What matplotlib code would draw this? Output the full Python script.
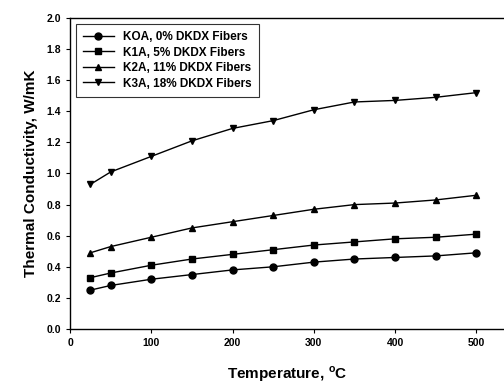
import matplotlib.pyplot as plt

plt.rcParams['font.family'] = ['Liberation Sans', 'DejaVu Sans']
plt.rcParams['font.weight'] = 'bold'
plt.rcParams['axes.labelweight'] = 'bold'

temps = [25, 50, 100, 150, 200, 250, 300, 350, 400, 450, 500]
k0a = [0.25, 0.28, 0.32, 0.35, 0.38, 0.40, 0.43, 0.45, 0.46, 0.47, 0.49]
k1a = [0.33, 0.36, 0.41, 0.45, 0.48, 0.51, 0.54, 0.56, 0.58, 0.59, 0.61]
k2a = [0.49, 0.53, 0.59, 0.65, 0.69, 0.73, 0.77, 0.80, 0.81, 0.83, 0.86]
k3a = [0.93, 1.01, 1.11, 1.21, 1.29, 1.34, 1.41, 1.46, 1.47, 1.49, 1.52]
labels = ['KOA, 0% DKDX Fibers', 'K1A, 5% DKDX Fibers',
          'K2A, 11% DKDX Fibers', 'K3A, 18% DKDX Fibers']

fig = plt.figure(figsize=(5.04, 3.83), dpi=100)
ax = fig.add_axes([0.139, 0.141, 0.861, 0.812])

series = [k0a, k1a, k2a, k3a]
markers = ['o', 's', '^', 'v']
for vals, m, lab in zip(series, markers, labels):
    ax.plot(temps, vals, color='black', lw=1.0, marker=m, ms=5, label=lab)

ax.set_xlim(0, 534)
ax.set_ylim(0, 2.0)
ax.set_xticks([0, 100, 200, 300, 400, 500])
ax.set_yticks([0.0, 0.2, 0.4, 0.6, 0.8, 1.0, 1.2, 1.4, 1.6, 1.8, 2.0])
ax.set_yticklabels(['%.1f' % v for v in ax.get_yticks()])
ax.tick_params(labelsize=7.5, length=3, width=0.8)
ax.spines['right'].set_visible(False)
for s in ['left', 'bottom', 'top']:
    ax.spines[s].set_linewidth(1.0)

ax.set_xlabel('Temperature, $^{\\mathregular{o}}$C', fontsize=11, labelpad=12)
ax.set_ylabel('Thermal Conductivity, W/mK', fontsize=11, labelpad=6)

leg = ax.legend(loc='upper left', bbox_to_anchor=(0.0, 1.0), fontsize=8.5,
                frameon=True, fancybox=False, edgecolor='black',
                handlelength=2.6, labelspacing=0.3, borderpad=0.6)
leg.get_frame().set_linewidth(0.8)

fig.savefig('out.png', dpi=100)
